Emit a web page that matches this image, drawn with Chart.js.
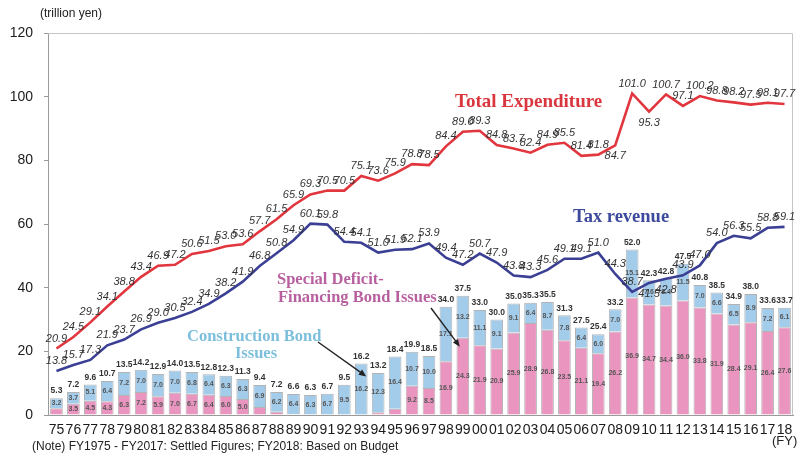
<!DOCTYPE html>
<html>
<head>
<meta charset="utf-8">
<script src="https://cdn.jsdelivr.net/npm/chart.js@4.4.1/dist/chart.umd.min.js"></script>
<style>
  html, body { margin: 0; padding: 0; background: #fff; }
</style>
</head>
<body>
<canvas id="cv" width="800" height="459"></canvas>
<script>
// fiscal years 1975-2018
const years = ['75','76','77','78','79','80','81','82','83','84',
  '85','86','87','88','89','90','91','92','93','94',
  '95','96','97','98','99','00','01','02','03','04',
  '05','06','07','08','09','10','11','12','13','14',
  '15','16','17','18'];

// trillion yen
const expenditure = [20.9, 24.5, 29.1, 34.1, 38.8, 43.4, 46.9, 47.2, 50.6, 51.5,
  53.0, 53.6, 57.7, 61.5, 65.9, 69.3, 70.5, 70.5, 75.1, 73.6,
  75.9, 78.8, 78.5, 84.4, 89.0, 89.3, 84.8, 83.7, 82.4, 84.9,
  85.5, 81.4, 81.8, 84.7, 101.0, 95.3, 100.7, 97.1, 100.2, 98.8,
  98.2, 97.5, 98.1, 97.7];

const taxRevenue = [13.8, 15.7, 17.3, 21.9, 23.7, 26.9, 29.0, 30.5, 32.4, 34.9,
  38.2, 41.9, 46.8, 50.8, 54.9, 60.1, 59.8, 54.4, 54.1, 51.0,
  51.9, 52.1, 53.9, 49.4, 47.2, 50.7, 47.9, 43.8, 43.3, 45.6,
  49.1, 49.1, 51.0, 44.3, 38.7, 41.5, 42.8, 43.9, 47.0, 54.0,
  56.3, 55.5, 58.8, 59.1];

const deficitBonds = [2.1, 3.5, 4.5, 4.3, 6.3, 7.2, 5.9, 7.0, 6.7, 6.4,
  6.0, 5.0, 2.5, 1.0, 0.2, 0, 0, 0, 0, 0.9,
  2.0, 9.2, 8.5, 16.9, 24.3, 21.9, 20.9, 25.9, 28.9, 26.8,
  23.5, 21.1, 19.4, 26.2, 36.9, 34.7, 34.4, 36.0, 33.8, 31.9,
  28.4, 29.1, 26.4, 27.6];

const constructionBonds = [3.2, 3.7, 5.1, 6.4, 7.2, 7.0, 7.0, 7.0, 6.8, 6.4,
  6.3, 6.3, 6.9, 6.2, 6.4, 6.3, 6.7, 9.5, 16.2, 12.3,
  16.4, 10.7, 10.0, 17.1, 13.2, 11.1, 9.1, 9.1, 6.4, 8.7,
  7.8, 6.4, 6.0, 7.0, 15.1, 7.6, 8.4, 11.5, 7.0, 6.6,
  6.5, 8.9, 7.2, 6.1];

const yTicks = [0, 20, 40, 60, 80, 100, 120];

// points whose value sits under the line instead of above it
const expBelow = [33, 35];
const taxBelow = [35, 36];

const SANS = '"Liberation Sans", Arial, sans-serif';
const SERIF = '"Liberation Serif", "Times New Roman", serif';

const frame = {
  id: 'frame',
  beforeDatasetsDraw(chart) {
    const { ctx, chartArea: a } = chart;
    ctx.save();
    ctx.strokeStyle = '#c4c4c4';
    ctx.lineWidth = 1;
    ctx.beginPath();
    ctx.moveTo(a.left, a.top + 0.5);
    ctx.lineTo(a.right - 0.5, a.top + 0.5);
    ctx.lineTo(a.right - 0.5, a.bottom);
    ctx.stroke();
    ctx.restore();
  }
};

function arrow(ctx, x1, y1, x2, y2) {
  const ang = Math.atan2(y2 - y1, x2 - x1);
  const hl = 8;
  ctx.beginPath();
  ctx.moveTo(x1, y1);
  ctx.lineTo(x2 - Math.cos(ang) * hl * 0.7, y2 - Math.sin(ang) * hl * 0.7);
  ctx.stroke();
  ctx.beginPath();
  ctx.moveTo(x2, y2);
  ctx.lineTo(x2 - hl * Math.cos(ang - 0.4), y2 - hl * Math.sin(ang - 0.4));
  ctx.lineTo(x2 - hl * Math.cos(ang + 0.4), y2 - hl * Math.sin(ang + 0.4));
  ctx.closePath();
  ctx.fill();
}

const valueLabels = {
  id: 'valueLabels',
  afterDatasetsDraw(chart) {
    const ctx = chart.ctx;
    ctx.save();
    ctx.textAlign = 'center';
    ctx.textBaseline = 'middle';

    // values inside each stacked segment
    ctx.font = 'bold 7px ' + SANS;
    ctx.fillStyle = '#555';
    [0, 1].forEach(di => {
      const vals = chart.data.datasets[di].data;
      chart.getDatasetMeta(di).data.forEach((bar, i) => {
        const h = bar.base - bar.y;
        if (!vals[i] || h < 9) return;
        ctx.fillText(vals[i].toFixed(1), bar.x, (bar.y + bar.base) / 2);
      });
    });

    // bond issue totals on top of the stacks
    ctx.font = 'bold 8.5px ' + SANS;
    ctx.fillStyle = '#333';
    chart.getDatasetMeta(1).data.forEach((bar, i) => {
      const total = deficitBonds[i] + constructionBonds[i];
      ctx.fillText(total.toFixed(1), bar.x, bar.y - 7);
    });

    // line values
    ctx.font = 'italic 11px ' + SANS;
    ctx.fillStyle = '#333';
    [[2, expBelow], [3, taxBelow]].forEach(([di, below]) => {
      const vals = chart.data.datasets[di].data;
      chart.getDatasetMeta(di).data.forEach((pt, i) => {
        const dy = below.includes(i) ? 11 : -10;
        ctx.fillText(vals[i].toFixed(1), pt.x, pt.y + dy);
      });
    });
    ctx.restore();
  }
};

const annotations = {
  id: 'annotations',
  afterDraw(chart) {
    const ctx = chart.ctx;
    ctx.save();
    ctx.textBaseline = 'middle';
    ctx.textAlign = 'left';

    ctx.font = 'bold 19px ' + SERIF;
    ctx.fillStyle = '#d9363e';
    ctx.fillText('Total Expenditure', 455, 102);

    ctx.font = 'bold 18.5px ' + SERIF;
    ctx.fillStyle = '#3d4a9c';
    ctx.fillText('Tax revenue', 573, 217);

    ctx.font = 'bold 16.5px ' + SERIF;
    ctx.fillStyle = '#b8609f';
    ctx.fillText('Special Deficit-', 277, 280);
    ctx.fillText('Financing Bond Issues', 278, 298);

    ctx.fillStyle = '#7cbfdc';
    ctx.fillText('Construction Bond', 187, 337);
    ctx.textAlign = 'center';
    ctx.fillText('Issues', 256, 354);

    // arrows to the first bars of each kind
    ctx.strokeStyle = '#222';
    ctx.fillStyle = '#222';
    ctx.lineWidth = 1.4;
    const cb = chart.getDatasetMeta(1).data[years.indexOf('93')];
    arrow(ctx, 318, 342, cb.x + 5, cb.y + 13);
    const db = chart.getDatasetMeta(0).data[years.indexOf('99')];
    arrow(ctx, 431, 308, db.x - 3, db.y + 9);

    // unit, axis caption and note
    ctx.fillStyle = '#222';
    ctx.textAlign = 'left';
    ctx.font = '12px ' + SANS;
    ctx.fillText('(trillion yen)', 40, 14);
    ctx.font = '13px ' + SANS;
    ctx.fillText('(FY)', 772, 441);
    ctx.font = '12px ' + SANS;
    ctx.fillText('(Note) FY1975 - FY2017: Settled Figures; FY2018: Based on Budget', 32, 447);
    ctx.restore();
  }
};

new Chart(document.getElementById('cv').getContext('2d'), {
  data: {
    labels: years,
    datasets: [
      {
        type: 'bar',
        label: 'Special Deficit-Financing Bond Issues',
        data: deficitBonds,
        stack: 'bonds',
        backgroundColor: '#ea95bf',
        borderColor: '#b3b3b3',
        borderWidth: 1,
        categoryPercentage: 0.75,
        barPercentage: 1,
        order: 2
      },
      {
        type: 'bar',
        label: 'Construction Bond Issues',
        data: constructionBonds,
        stack: 'bonds',
        backgroundColor: '#a3cbea',
        borderColor: '#b3b3b3',
        borderWidth: 1,
        categoryPercentage: 0.75,
        barPercentage: 1,
        order: 2
      },
      {
        type: 'line',
        label: 'Total Expenditure',
        data: expenditure,
        stack: 'exp',
        borderColor: '#e2363f',
        borderWidth: 2.6,
        pointRadius: 0,
        tension: 0,
        order: 1
      },
      {
        type: 'line',
        label: 'Tax revenue',
        data: taxRevenue,
        stack: 'tax',
        borderColor: '#3b4095',
        borderWidth: 2.6,
        pointRadius: 0,
        tension: 0,
        order: 1
      }
    ]
  },
  options: {
    responsive: false,
    animation: false,
    layout: { padding: { top: 33, right: 7, left: 0, bottom: 0 } },
    plugins: { legend: { display: false }, tooltip: { enabled: false } },
    scales: {
      x: {
        stacked: true,
        offset: true,
        grid: { display: false, drawTicks: false },
        border: { color: '#9a9a9a' },
        ticks: {
          autoSkip: false, maxRotation: 0, padding: 7,
          color: '#1a1a1a', font: { family: SANS, size: 14 }
        },
        afterFit(scale) { scale.height = 44; }
      },
      y: {
        stacked: true,
        min: 0,
        max: 120,
        afterBuildTicks(scale) { scale.ticks = yTicks.map(v => ({ value: v })); },
        grid: { drawOnChartArea: false, tickLength: 4, color: '#9a9a9a' },
        border: { color: '#9a9a9a' },
        ticks: {
          padding: 11,
          color: '#1a1a1a', font: { family: SANS, size: 14 }
        },
        afterFit(scale) { scale.width = 48; }
      }
    }
  },
  plugins: [frame, valueLabels, annotations]
});
</script>
</body>
</html>
